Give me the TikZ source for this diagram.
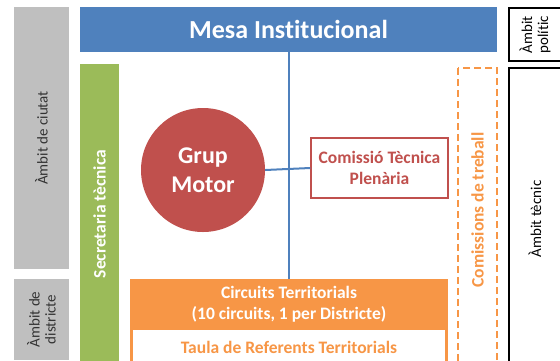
\documentclass[tikz,border=0pt]{standalone}
\usepackage{fontspec}
\setmainfont{Carlito}[Ligatures=NoCommon]
\usetikzlibrary{positioning}
\definecolor{mesablue}{HTML}{4F81BD}
\definecolor{motorred}{HTML}{C0504D}
\definecolor{secgreen}{HTML}{9BBB59}
\definecolor{circorange}{HTML}{F79646}
\definecolor{levelgray}{HTML}{BFBFBF}
\tikzset{
    ambitgray/.style={fill=levelgray, draw=none, rotate=90, align=center, text=black!80, font=\fontsize{15}{16}\selectfont},
    ambitbox/.style={fill=white, draw=black, line width=1.5pt, rotate=90, align=center, font=\fontsize{15}{16}\selectfont},
    link/.style={draw=mesablue, line width=2pt},
    bigfont/.style={font=\bfseries\fontsize{26}{29}\selectfont},
    motorfont/.style={font=\bfseries\fontsize{24}{29}\selectfont},
    midfont/.style={font=\bfseries\fontsize{17.5}{21}\selectfont}
}
\begin{document}
\begin{tikzpicture}[x=1pt,y=-1pt]
    \useasboundingbox (0,0) rectangle (560,360);
    % left side: city / district levels
    \node[ambitgray, minimum width=262pt, minimum height=55pt] (ciutat) at (41.5,138) {Àmbit de ciutat};
    \node[ambitgray, minimum width=81pt, minimum height=55pt] (districte) at (41.5,319.5) {Àmbit de\\districte};
    % right side
    \node[ambitbox, minimum width=53pt, minimum height=52pt] (politic) at (535,34.5) {Àmbit\\polític};
    \node[ambitbox, minimum width=302pt, minimum height=52pt] (tecnic) at (535,219) {Àmbit tècnic};
    % main boxes
    \node[fill=mesablue, text=white, bigfont, minimum width=417pt, minimum height=45pt] (mesa) at (288.5,29.5) {Mesa Institucional};
    \node[fill=secgreen, text=white, midfont, rotate=90, minimum width=300pt, minimum height=39pt] (secretaria) at (99.5,214) {Secretaria tècnica};
    \node[circle, fill=motorred, text=white, motorfont, align=center, minimum size=124pt] (motor) at (203,170) {Grup\\Motor};
    \node[draw=motorred, line width=1.5pt, fill=white, text=motorred, midfont, align=center, minimum width=137pt, minimum height=60pt] (comissio) at (379.5,168) {Comissió Tècnica\\Plenària};
    \node[draw=circorange, dash pattern=on 7pt off 4pt, line width=2pt, rotate=90, minimum width=297pt, minimum height=39pt] (treball) at (477.5,216.5) {};
    \node[text=circorange, midfont, rotate=90] (treballtxt) at (477.5,210) {Comissions de treball};
    % territorial circuits
    \node[fill=circorange, minimum width=318pt, minimum height=111pt] (circuits) at (289,334.5) {};
    \node[text=white, midfont, align=center] (circuitstxt) at (289,304.5) {Circuits Territorials\\(10 circuits, 1 per Districte)};
    \node[fill=white, anchor=north, minimum width=312pt, minimum height=60pt] (taula) at (289,330) {};
    \node[text=circorange, midfont] (taulatxt) at (289,347) {Taula de Referents Territorials};
    % connectors
    \draw[link] (mesa.south) -- (mesa.south |- circuits.north);
    \draw[link] (motor.east) -- (comissio.west);
\end{tikzpicture}
\end{document}
